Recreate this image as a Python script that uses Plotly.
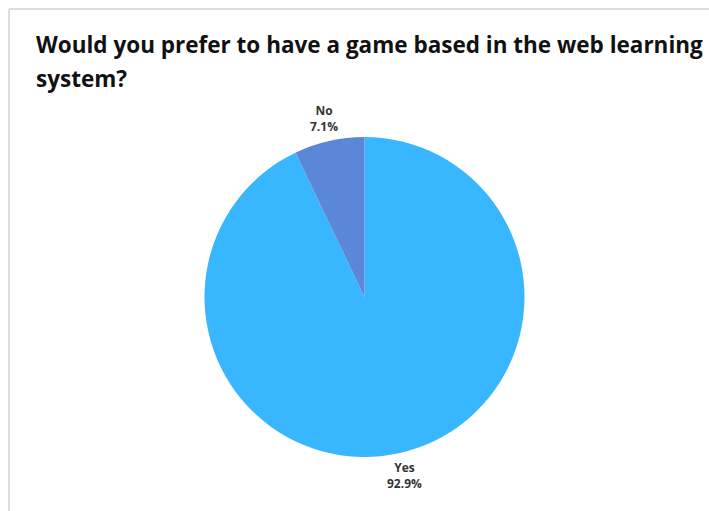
import math
import plotly.graph_objects as go

# Survey responses
answers = ["Yes", "No"]
shares = [92.9, 7.1]
colors = ["#38B6FF", "#5B87D8"]

W, H = 709, 511
CX, CY, R = 364.5, 297, 160  # pie centre and radius in pixels
LABEL_R = 183                 # distance of the slice labels from the centre

fig = go.Figure(
    go.Pie(
        labels=answers,
        values=shares,
        sort=False,
        direction="clockwise",
        rotation=0,
        marker=dict(colors=colors, line=dict(width=0)),
        textinfo="none",
        hoverinfo="label+percent",
        showlegend=False,
        domain=dict(x=[(CX - R) / W, (CX + R) / W],
                    y=[(H - CY - R) / H, (H - CY + R) / H]),
    )
)

# Slice labels placed outside the pie at each slice's mid-angle
total = sum(shares)
start = 0.0
for name, val in zip(answers, shares):
    mid = (start + val / 2) / total * 2 * math.pi  # clockwise from 12 o'clock
    start += val
    px = CX + LABEL_R * math.sin(mid)
    py = CY - LABEL_R * math.cos(mid)
    fig.add_annotation(
        x=px / W, y=1 - py / H, xref="paper", yref="paper",
        xanchor="center", yanchor="middle", showarrow=False, align="center",
        text=f"<b>{name}</b><br><b>{val / total * 100:.1f}%</b>",
        font=dict(family="Open Sans, sans-serif", size=12, color="#333333"),
    )

title_lines = ["Would you prefer to have a game based in the web learning", "system?"]
for i, line in enumerate(title_lines):
    fig.add_annotation(
        x=34 / W, y=1 - (45 + 33 * i) / H, xref="paper", yref="paper",
        xanchor="left", yanchor="middle", align="left", showarrow=False,
        text=f"<b>{line}</b>",
        font=dict(family="Open Sans, sans-serif", size=22.5, color="#111111"),
    )

# Light frame along the top and left edges
fig.add_shape(type="line", xref="paper", yref="paper",
              x0=9 / W, x1=1.05, y0=1 - 9 / H, y1=1 - 9 / H,
              line=dict(color="#DDDDDD", width=2))
fig.add_shape(type="line", xref="paper", yref="paper",
              x0=9 / W, x1=9 / W, y0=-0.05, y1=1 - 9 / H,
              line=dict(color="#DDDDDD", width=2))

fig.update_layout(
    width=W, height=H,
    margin=dict(l=0, r=0, t=0, b=0),
    paper_bgcolor="white",
    plot_bgcolor="white",
)

fig.write_html("out.html")
